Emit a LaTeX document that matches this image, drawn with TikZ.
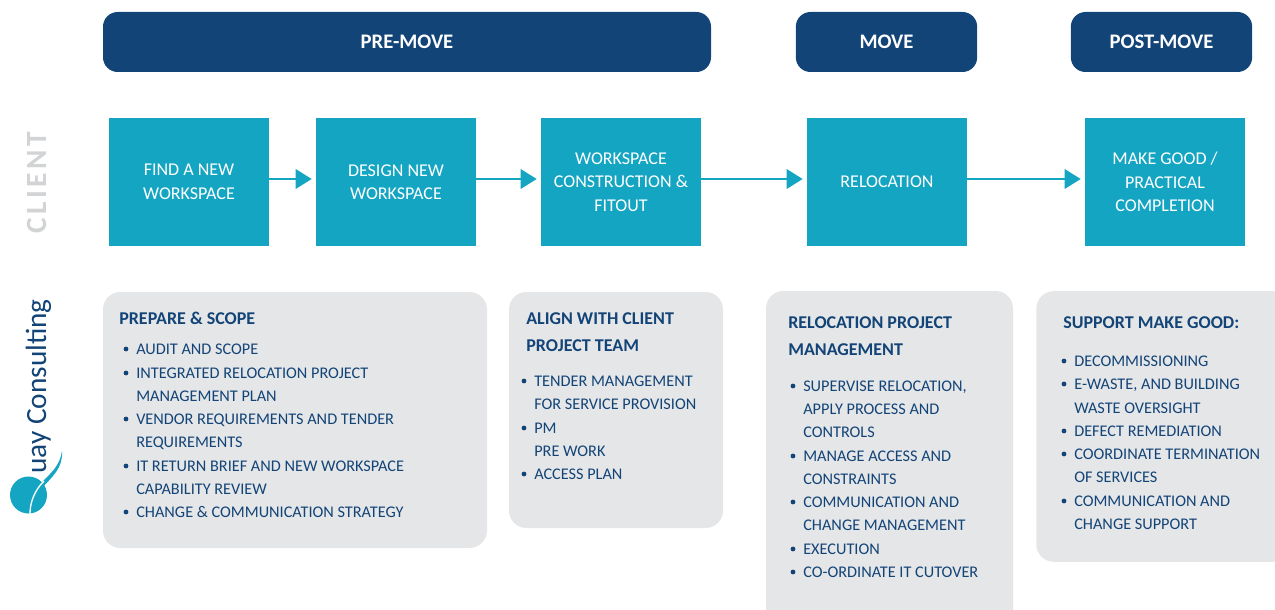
\documentclass[tikz,border=0pt]{standalone}
\usepackage{fontspec}
\setmainfont{Carlito}
\usetikzlibrary{arrows.meta}
\definecolor{navy}{HTML}{134477}
\definecolor{teal}{HTML}{13A5C2}
\definecolor{panelgrey}{HTML}{E5E6E8}
\definecolor{clientgrey}{HTML}{D2D3D4}
\tikzset{
  headbar/.style={fill=navy,text=white,rounded corners=11pt,inner sep=0pt,font=\fontsize{15.5}{18}\selectfont\bfseries},
  stepbox/.style={fill=teal,text=white,inner sep=0pt,minimum width=120pt,minimum height=96pt,align=center,font=\fontsize{13.5}{17.6}\selectfont},
  panelbox/.style={fill=panelgrey,rounded corners=13pt,inner sep=0pt},
  flow/.style={teal,line width=1.6pt,-{Triangle[length=12pt,width=14.5pt]},shorten >=3pt},
  paneltitle/.style={anchor=base west,inner sep=0pt,text=navy,font=\fontsize{13.5}{16}\selectfont\bfseries},
  paneltext/.style={anchor=base west,inner sep=0pt,text=navy,font=\fontsize{12.2}{16}\selectfont},
  bulletdot/.style={circle,fill=navy,inner sep=0pt,minimum size=3.6pt}
}
\begin{document}
\begin{tikzpicture}[x=0.75pt,y=-0.75pt]
  \useasboundingbox[clip] (0,0) rectangle (1275,610);

  \node[headbar,minimum width=456pt,minimum height=45pt] (premove) at (407,42) {PRE-MOVE};
  \node[headbar,minimum width=136pt,minimum height=45pt] (move) at (886.5,42) {MOVE};
  \node[headbar,minimum width=136pt,minimum height=45pt] (postmove) at (1161.5,42) {POST-MOVE};

  \node[stepbox] (find) at (189,182) {FIND A NEW\\WORKSPACE};
  \node[stepbox] (design) at (396,182) {DESIGN NEW\\WORKSPACE};
  \node[stepbox] (fitout) at (621,182) {WORKSPACE\\CONSTRUCTION \&\\FITOUT};
  \node[stepbox] (reloc) at (887,182) {RELOCATION};
  \node[stepbox] (makegood) at (1165,182) {MAKE GOOD /\\PRACTICAL\\COMPLETION};

  \draw[flow] (find.east |- 0,179) -- (design.west |- 0,179);
  \draw[flow] (design.east |- 0,179) -- (fitout.west |- 0,179);
  \draw[flow] (fitout.east |- 0,179) -- (reloc.west |- 0,179);
  \draw[flow] (reloc.east |- 0,179) -- (makegood.west |- 0,179);

  \node[panelbox,minimum width=288pt,minimum height=192pt] (panela) at (295,420) {};
  \node[panelbox,minimum width=160.5pt,minimum height=177pt] (panelb) at (616,410) {};
  \node[panelbox,minimum width=185.25pt,minimum height=270pt] (panelc) at (889.5,471) {};
  \node[panelbox,minimum width=190pt,minimum height=203pt] (paneld) at (1163,426.5) {};

  % first panel
  \node[paneltitle] (ta) at (119,324) {PREPARE \& SCOPE};
  \foreach \y/\txt [count=\i] in {354/AUDIT AND SCOPE,378/INTEGRATED RELOCATION PROJECT,
      401/MANAGEMENT PLAN,424/VENDOR REQUIREMENTS AND TENDER,447/REQUIREMENTS,
      471/IT RETURN BRIEF AND NEW WORKSPACE,494/CAPABILITY REVIEW,517/CHANGE \& COMMUNICATION STRATEGY}{
    \node[paneltext] (la\i) at (136,\y) {\txt};
  }
  \foreach \y [count=\i] in {349,373,419,466,512}{
    \node[bulletdot] (da\i) at (126,\y) {};
  }

  % second panel
  \node[paneltitle] (tb1) at (526,324) {ALIGN WITH CLIENT};
  \node[paneltitle] (tb2) at (526,351) {PROJECT TEAM};
  \foreach \y/\txt [count=\i] in {386/TENDER MANAGEMENT,409/FOR SERVICE PROVISION,
      433/PM/PROVISIONING \&,456/PRE WORK,479/ACCESS PLAN}{
    \node[paneltext] (lb\i) at (534,\y) {\txt};
  }
  \foreach \y [count=\i] in {381,428,474}{
    \node[bulletdot] (db\i) at (524,\y) {};
  }

  % third panel
  \node[paneltitle] (tc1) at (788,328) {RELOCATION PROJECT};
  \node[paneltitle] (tc2) at (788,355) {MANAGEMENT};
  \foreach \y/\txt [count=\i] in {391/{SUPERVISE RELOCATION,},414/APPLY PROCESS AND,437/CONTROLS,
      461/MANAGE ACCESS AND,484/CONSTRAINTS,507/COMMUNICATION AND,530/CHANGE MANAGEMENT,
      554/EXECUTION,577/CO-ORDINATE IT CUTOVER}{
    \node[paneltext] (lc\i) at (803,\y) {\txt};
  }
  \foreach \y [count=\i] in {386,456,502,549,572}{
    \node[bulletdot] (dc\i) at (793,\y) {};
  }

  % fourth panel
  \node[paneltitle] (td) at (1063,328) {SUPPORT MAKE GOOD:};
  \foreach \y/\txt [count=\i] in {366/DECOMMISSIONING,389/{E-WASTE, AND BUILDING},413/WASTE OVERSIGHT,
      436/DEFECT REMEDIATION,459/COORDINATE TERMINATION,482/OF SERVICES,
      506/COMMUNICATION AND,529/CHANGE SUPPORT}{
    \node[paneltext] (ld\i) at (1074,\y) {\txt};
  }
  \foreach \y [count=\i] in {361,384,431,454,501}{
    \node[bulletdot] (dd\i) at (1064,\y) {};
  }

  \node[rotate=90,text=clientgrey,inner sep=0pt,font=\fontsize{22}{24}\selectfont\bfseries\addfontfeature{LetterSpace=12}] (client) at (37,183) {CLIENT};

  % logo
  \node[rotate=90,anchor=base west,text=navy,inner sep=0pt,font=\fontsize{22}{24}\selectfont] (brand) at (46,474) {uay Consulting};
  \fill[teal] (28.5,495) circle [radius=18.5];
  \fill[teal] (41,483) .. controls (50,474) and (60,466) .. (62,451) .. controls (63,468) and (53,476) .. (41,489) -- cycle;
  \draw[white,line width=1pt] (30,514) .. controls (30,503) and (34,491) .. (44,481);
\end{tikzpicture}
\end{document}
